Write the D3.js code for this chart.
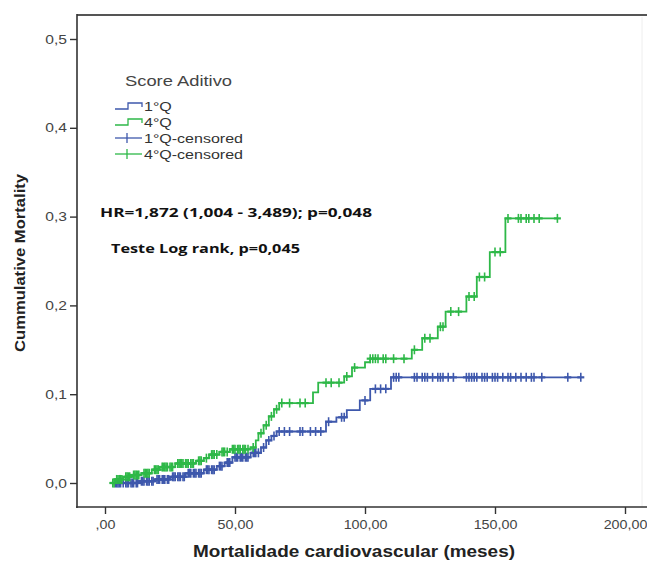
<!DOCTYPE html>
<html><head><meta charset="utf-8">
<script src="https://cdn.jsdelivr.net/npm/d3@7"></script>
<style>body{margin:0;background:#fff}svg{display:block}</style>
</head><body>
<svg id="c" width="647" height="563"></svg>
<script>
// ---- data ----
const xTicks = [0, 50, 100, 150, 200];
const xTickLabels = [",00", "50,00", "100,00", "150,00", "200,00"];
const yTicks = [0, 0.1, 0.2, 0.3, 0.4, 0.5];
const yTickLabels = ["0,0", "0,1", "0,2", "0,3", "0,4", "0,5"];
const groups = ["1°Q", "4°Q"];
// step points [time, cumulative mortality after the step]
const q1Steps = [[3,0],[13,0.002],[19,0.004],[25,0.007],[31,0.011],[38,0.015],[43,0.019],[46,0.023],[49,0.029],[56,0.034],[60,0.040],[62,0.048],[64,0.053],[66,0.058],[85,0.069],[89,0.074],[93,0.082],[98,0.093],[102,0.106],[110,0.119],[183,0.119]];
const q4Steps = [[2,0],[4,0.004],[7,0.007],[10,0.009],[14,0.011],[18,0.015],[21,0.018],[27,0.022],[35,0.025],[38,0.028],[40,0.032],[44,0.035],[48,0.038],[56,0.040],[58,0.048],[59,0.056],[61,0.065],[63,0.075],[65,0.083],[67,0.090],[80,0.102],[82,0.113],[92,0.120],[95,0.130],[100,0.136],[102,0.140],[118,0.150],[122,0.163],[128,0.176],[131,0.193],[139,0.210],[143,0.232],[148,0.260],[154,0.298],[174,0.298]];
// censored times
const q1Censored = [4,4.5,5,5.5,6,7,8,8.5,9,10,10.5,11,12,12.5,14,14.5,15,16,16.5,17,18,18.5,20,20.5,21,22,22.5,23,24,24.5,26,26.5,27,28,28.5,29,30,30.5,32,32.5,33,34,34.5,35,36,36.5,37,39,39.5,40,41,41.5,42,44,44.5,45,47,47.5,48,50,50.5,51,52,52.5,53,54,54.5,55,57,57.5,58,59,61,63,65,67,69,71,75,76,79,81,83,86,91,92,100,104,106,108,111,112,113,119,120,122,123,124,126,128,129,130,132,134,139,140,141,142,143,145,146,147,149,150,151,153,155,156,158,160,162,164,165,168,178,183];
const q4Censored = [3,3.5,4.5,5,5.5,6,6.5,8,8.5,9,9.5,11,11.5,12,12.5,13,15,15.5,16,16.5,17,19,19.5,20,20.5,22,22.5,23,23.5,24,25,25.5,26,28,28.5,29,29.5,30,31,31.5,32,33,33.5,34,36,36.5,37,39,41,41.5,42,43,45,45.5,46,47,49,49.5,50,51,51.5,52,53,53.5,54,55,57,60,62,64,66,68,71,75,77,85,87,90,93,96,102,103,104,105,107,108,111,115,119,123,125,129,130,133,136,140,142,144,146,150,152,155,159,160,162,163,165,167,174];
const annot1 = "HR=1,872 (1,004 - 3,489); p=0,048";
const annot2 = "Teste Log rank, p=0,045";

// ---- drawing ----
const svg = d3.select("#c");
const x = d3.scaleLinear().domain([0, 200]).range([105, 625]);
const y = d3.scaleLinear().domain([0, 0.5]).range([483, 39]);
const colors = {"1°Q": "#3e58ac", "4°Q": "#2eb848"};
const axisColor = "#333";
const font = "Liberation Sans, Arial, sans-serif";

function stretch(sel, f){
  sel.each(function(){ const n = this.getComputedTextLength(); d3.select(this).attr("textLength", n*f).attr("lengthAdjust","spacingAndGlyphs"); });
}

// frame
svg.append("line").attr("x1",77).attr("x2",647).attr("y1",15).attr("y2",15).attr("stroke","#555").attr("stroke-width",2);
svg.append("line").attr("x1",642).attr("x2",642).attr("y1",17).attr("y2",507).attr("stroke","#eee").attr("stroke-width",1);

// y axis
const yAxis = d3.axisLeft(y).tickValues(yTicks).tickFormat((d,i)=>yTickLabels[i]).tickSize(7).tickSizeOuter(0);
const gy = svg.append("g").attr("transform","translate(77,0)").call(yAxis);
gy.select(".domain").remove();
svg.append("line").attr("x1",77).attr("x2",77).attr("y1",14).attr("y2",508).attr("stroke",axisColor).attr("stroke-width",1.6);
gy.selectAll(".tick line").attr("stroke",axisColor).attr("stroke-width",1.4);
gy.selectAll(".tick text").attr("font-family",font).attr("font-size",13).attr("fill","#444").attr("x",-10);
stretch(gy.selectAll(".tick text"), 1.2);

// x axis
const xAxis = d3.axisBottom(x).tickValues(xTicks).tickFormat((d,i)=>xTickLabels[i]).tickSize(7).tickSizeOuter(0);
const gx = svg.append("g").attr("transform","translate(0,507)").call(xAxis);
gx.select(".domain").remove();
svg.append("line").attr("x1",76).attr("x2",647).attr("y1",507).attr("y2",507).attr("stroke",axisColor).attr("stroke-width",1.6);
gx.selectAll(".tick line").attr("stroke",axisColor).attr("stroke-width",1.4);
gx.selectAll(".tick text").attr("font-family",font).attr("font-size",13).attr("fill","#444").attr("y",13);
stretch(gx.selectAll(".tick text"), 1.1);

// titles
svg.append("text").attr("x",354).attr("y",557).attr("text-anchor","middle")
  .attr("font-family",font).attr("font-weight","bold").attr("font-size",16.5).attr("fill","#222")
  .attr("textLength",322).attr("lengthAdjust","spacingAndGlyphs")
  .text("Mortalidade cardiovascular (meses)");
svg.append("text").attr("transform","translate(25,263) rotate(-90)").attr("text-anchor","middle")
  .attr("font-family",font).attr("font-weight","bold").attr("font-size",14.5).attr("fill","#222")
  .attr("textLength",178).attr("lengthAdjust","spacingAndGlyphs")
  .text("Cummulative Mortality");

// curves
const line = d3.line().x(d=>x(d[0])).y(d=>y(d[1])).curve(d3.curveStepAfter);
const series = [
  {name:"1°Q", steps:q1Steps, cens:q1Censored},
  {name:"4°Q", steps:q4Steps, cens:q4Censored}
];
const bis = d3.bisector(d=>d[0]).right;
function valueAt(steps, t){ const i = bis(steps, t) - 1; return steps[Math.max(0,i)][1]; }
series.forEach(s=>{
  const g = svg.append("g");
  g.append("path").attr("d", line(s.steps)).attr("fill","none").attr("stroke",colors[s.name]).attr("stroke-width",1.8);
  s.cens.forEach(t=>{
    const cx = x(t), cy = y(valueAt(s.steps,t));
    g.append("line").attr("x1",cx).attr("x2",cx).attr("y1",cy-4.5).attr("y2",cy+4.5).attr("stroke",colors[s.name]).attr("stroke-width",1.6);
    g.append("line").attr("x1",cx-3.5).attr("x2",cx+3.5).attr("y1",cy).attr("y2",cy).attr("stroke",colors[s.name]).attr("stroke-width",2.2);
  });
});

// legend
const lg = svg.append("g");
lg.append("text").attr("x",125).attr("y",86).attr("font-family",font).attr("font-size",15).attr("fill","#444")
  .attr("textLength",107).attr("lengthAdjust","spacingAndGlyphs").text("Score Aditivo");
const legendItems = [
  {label: groups[0], color: colors["1°Q"], type:"step"},
  {label: groups[1], color: colors["4°Q"], type:"step"},
  {label: groups[0] + "-censored", color: colors["1°Q"], type:"cens"},
  {label: groups[1] + "-censored", color: colors["4°Q"], type:"cens"}
];
const legendY = [106, 122, 138, 154];
legendItems.forEach((it,i)=>{
  const yy = legendY[i];
  if (it.type === "step") {
    lg.append("path").attr("d",`M115,${yy+3}H128V${yy-3}H142V${yy+1}`).attr("fill","none").attr("stroke",it.color).attr("stroke-width",1.3);
  } else {
    lg.append("line").attr("x1",115).attr("x2",142).attr("y1",yy).attr("y2",yy).attr("stroke",it.color).attr("stroke-width",1.3);
    lg.append("line").attr("x1",127).attr("x2",127).attr("y1",yy-5).attr("y2",yy+5).attr("stroke",it.color).attr("stroke-width",1.3);
  }
  lg.append("text").attr("class","lgt").attr("x",144).attr("y",yy+4.5).attr("font-family",font).attr("font-size",13).attr("fill","#333").text(it.label);
});
const ref = lg.selectAll(".lgt").nodes()[2].getComputedTextLength();
stretch(lg.selectAll(".lgt"), 99/ref);

// annotations
svg.append("text").attr("x",100).attr("y",217).attr("font-family","Open Sans, sans-serif").attr("font-weight","bold").attr("font-size",12.5).attr("fill","#111")
  .attr("textLength",272).attr("lengthAdjust","spacingAndGlyphs").text(annot1);
svg.append("text").attr("x",111).attr("y",253).attr("font-family","Open Sans, sans-serif").attr("font-weight","bold").attr("font-size",12.5).attr("fill","#111")
  .attr("textLength",189).attr("lengthAdjust","spacingAndGlyphs").text(annot2);
</script>
</body></html>
